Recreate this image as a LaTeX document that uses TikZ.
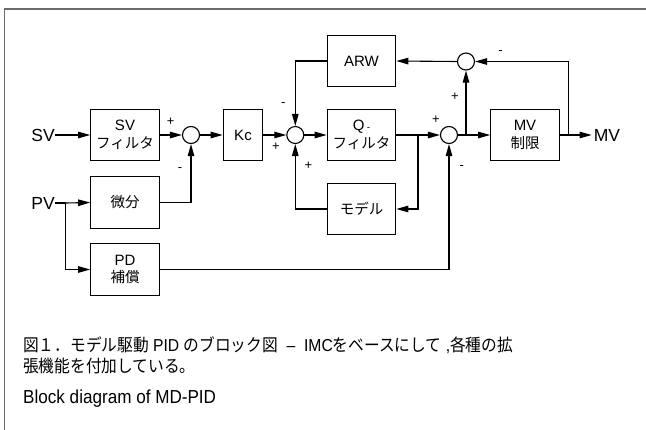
\documentclass[tikz,border=0pt]{standalone}
\usepackage{fontspec}
\setmainfont{Liberation Sans}
\newfontfamily\jp{Noto Sans CJK JP}
\usetikzlibrary{arrows.meta,calc}

\tikzset{
  wire/.style={line width=1.1pt},
  sig/.style={wire,-{Triangle[length=12pt,width=6.5pt]}},
  blk/.style={draw,line width=1.2pt,minimum width=68.5pt,minimum height=51.5pt,
              inner sep=0pt,align=center,font=\fontsize{15}{17.5}\selectfont},
  narrow/.style={blk,minimum width=39.5pt},
  sum/.style={draw,circle,line width=1.1pt,minimum size=17pt,inner sep=0pt},
  io/.style={font=\fontsize{17.5}{20}\selectfont,inner sep=0pt},
  sgn/.style={font=\fontsize{13}{14}\selectfont,inner sep=0pt},
  captxt/.style={font=\fontsize{15.7}{18}\selectfont,anchor=west,inner sep=0pt,
                 yscale=1.1,transform shape}
}
\newcommand{\jpb}[1]{{\jp\fontsize{14.5}{17.5}\selectfont #1}}

\begin{document}
\begin{tikzpicture}[x=1pt,y=-1pt]
\useasboundingbox (0,0) rectangle (646,429);
% outer frame
\draw[line width=1.3pt,color=black!58] (4.7,440) -- (4.7,9) -- (660,9);

% terminals
\node[io] (SV) at (43,135) {SV};
\node[io] (PV) at (43,203) {PV};
\node[io] (MV) at (607,135) {MV};

% blocks
\node[blk] (svf) at (125,135) {SV\\\jpb{フィルタ}};
\node[blk] (dif) at (125,202.5) {\jpb{微分}};
\node[blk] (pd) at (125,269.5) {PD\\\jpb{補償}};
\node[narrow] (kc) at (243,135) {Kc};
\node[blk] (arw) at (361.5,61) {ARW};
\node[blk] (qf) at (361.5,135) {Q\,{\fontsize{10}{12}\selectfont -}\\\jpb{フィルタ}};
\node[blk] (mdl) at (361.5,209) {\jpb{モデル}};
\node[blk] (mvl) at (525,135) {MV\\\jpb{制限}};

% summing points
\node[sum] (s1) at (191,135) {};
\node[sum] (s2) at (295.3,135) {};
\node[sum] (s3) at (449,135) {};
\node[sum] (s4) at (466,61.5) {};

% branch points
\coordinate (jq) at (418,135);
\coordinate (jm) at (466,135);
\coordinate (jo) at (568.3,135);
\coordinate (jp) at (65.7,203);

% forward path
\draw[sig] (SV.east) -- (svf.west);
\draw[sig] (svf.east) -- (s1.west);
\draw[sig] (s1.east) -- (kc.west);
\draw[sig] (kc.east) -- (s2.west);
\draw[sig] (s2.east) -- (qf.west);
\draw[wire] (qf.east) -- (jq);
\draw[sig] (jq) -- (s3.west);
\draw[wire] (s3.east) -- (jm);
\draw[sig] (jm) -- (mvl.west);
\draw[wire] (mvl.east) -- (jo);
\draw[sig] (jo) -- ([xshift=-2pt]MV.west);

% model loop
\draw[sig] (jq) |- (mdl.east);
\draw[sig] (mdl.west) -| (s2.south);

% anti-reset-windup loop
\draw[sig] (jm) -- (s4.south);
\draw[sig] (jo) |- (s4.east);
\draw[sig] (s4.west) -- (arw.east);
\draw[sig] (arw.west) -| (s2.north);

% measured value paths
\draw[wire] (PV.east) -- (jp);
\draw[sig] (jp) -- (dif.west);
\draw[sig] (jp) |- (pd.west);
\draw[sig] (dif.east) -| (s1.south);
\draw[sig] (pd.east) -| (s3.south);

% signs
\node[sgn] (p1a) at (170.7,121.5) {+};
\node[sgn] (m1b) at (180,169.3) {-};
\node[sgn] (m2a) at (283.3,105) {-};
\node[sgn] (p2b) at (276,146.7) {+};
\node[sgn] (p2c) at (308.3,166) {+};
\node[sgn] (p3a) at (436,120) {+};
\node[sgn] (m3b) at (461.7,167.3) {-};
\node[sgn] (p4a) at (455,96.7) {+};
\node[sgn] (m4b) at (500.6,52.7) {-};

% caption
\node[captxt] (c1) at (23,345) {{\jp 図１．モデル駆動} PID {\jp のブロック図}\ \ –\ \ IMC{\jp をベースにして} ,{\jp 各種の拡}};
\node[captxt] (c2) at (23,366) {\jp 張機能を付加している。};
\node[captxt,font=\fontsize{17.1}{19}\selectfont] (c3) at (23,399) {Block diagram of MD-PID};
\end{tikzpicture}
\end{document}
